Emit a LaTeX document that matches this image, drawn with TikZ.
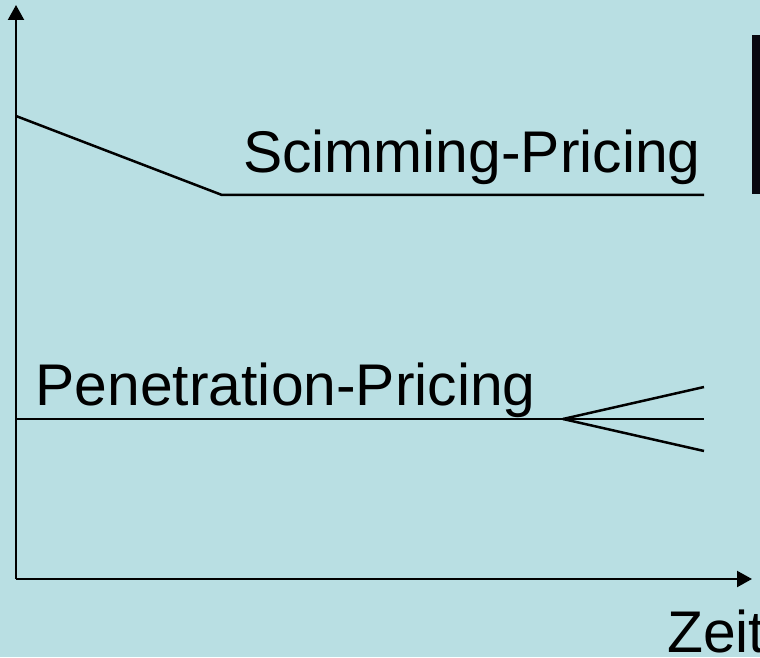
\documentclass[tikz,border=0pt]{standalone}
\usepackage{fontspec}
\setmainfont{Liberation Sans}
\usetikzlibrary{arrows.meta}
\definecolor{bgblue}{RGB}{185,223,227}
\definecolor{barblack}{RGB}{8,8,16}
\tikzset{
  axis/.style={line width=2.2pt, -{Triangle[width=16pt,length=15pt]}},
  curve/.style={line width=2.5pt},
  lbl/.style={anchor=base west, inner sep=0pt, font=\fontsize{58.8}{60}\selectfont}
}
\begin{document}
\begin{tikzpicture}[x=1pt,y=1pt]
  \useasboundingbox (0,0) rectangle (760,657);
  \clip (0,0) rectangle (760,657);
  \fill[bgblue] (0,0) rectangle (760,657);
  % dark bar on the right edge
  \fill[barblack] (752,463) rectangle (760,622);

  % axes
  \coordinate (origin) at (16,78);
  \coordinate (ytip) at (16,652);
  \coordinate (xtip) at (752,78);
  \draw[axis] (origin) -- (ytip);
  \draw[axis] (origin) -- (xtip);

  % skimming price path
  \coordinate (s0) at (16,541);
  \coordinate (s1) at (222,462);
  \coordinate (s2) at (704,462);
  \draw[curve, line join=miter] (s0) -- (s1) -- (s2);

  % penetration price path with fan
  \coordinate (p0) at (16,238);
  \coordinate (pf) at (563,238);
  \coordinate (p1) at (704,238);
  \coordinate (pu) at (704,270);
  \coordinate (pd) at (704,206);
  \draw[curve] (p0) -- (p1);
  \draw[curve] (pf) -- (pu);
  \draw[curve] (pf) -- (pd);

  % labels
  \node[lbl] (skim) at (243,484) {Scimming-Pricing};
  \node[lbl] (pene) at (35.5,252) {Penetration-Pricing};
  \node[lbl] (zeit) at (667,5) {Zeit};
\end{tikzpicture}
\end{document}
